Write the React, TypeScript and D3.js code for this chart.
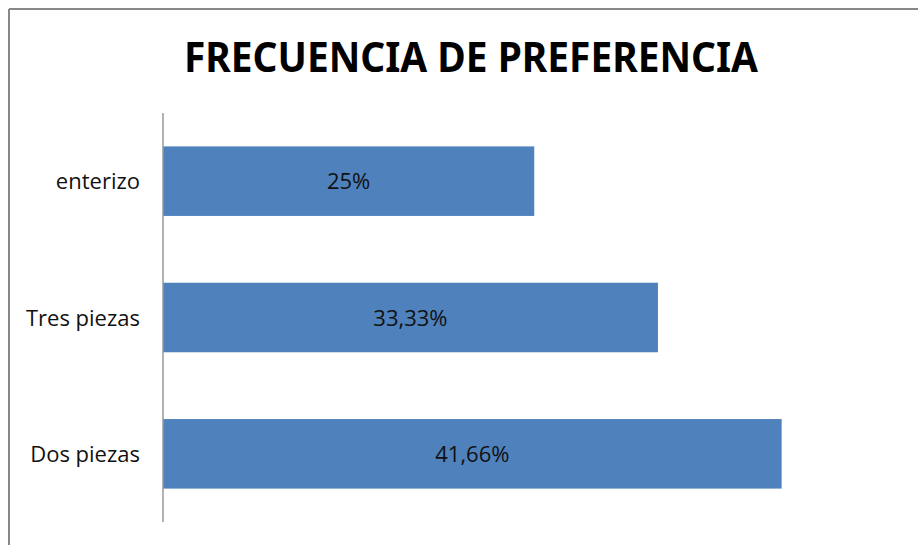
import React from "react";
import * as d3 from "d3";

const categories = ["enterizo", "Tres piezas", "Dos piezas"];
const values = [25, 33.33, 41.66];
const valueLabels = ["25%", "33,33%", "41,66%"];
const title = "FRECUENCIA DE PREFERENCIA";

export default function App() {
  const W = 918, H = 545;
  const x0 = 163, yTop = 113, yBot = 522;
  const x = d3.scaleLinear().domain([0, 45]).range([x0, x0 + 45 * 14.85]);
  const y = d3.scaleBand<string>().domain(categories).range([yTop, yBot]).paddingInner(0.49).paddingOuter(0.245);
  return (
    <svg width={W} height={H} style={{ position: "absolute", left: 0, top: 0 }}
      fontFamily="'Open Sans', 'Noto Sans', sans-serif">
      <rect x={0} y={0} width={W} height={H} fill="#fff" />
      <line x1={9} y1={9} x2={W} y2={9} stroke="#888" strokeWidth={2} />
      <line x1={9} y1={9} x2={9} y2={H} stroke="#888" strokeWidth={2} />
      <text x={471} y={72} textAnchor="middle" fontSize={41} fontWeight="bold" fill="#000"
        textLength={574} lengthAdjust="spacingAndGlyphs" fontFamily="'Noto Sans', sans-serif">{title}</text>
      {categories.map((c, i) => {
        const by = y(c)!;
        const bh = y.bandwidth();
        return (
          <g key={c}>
            <rect x={x(0)} y={by} width={x(values[i]) - x(0)} height={bh} fill="#4F81BD" />
            <text x={(x(0) + x(values[i])) / 2} y={by + bh / 2 + 8} textAnchor="middle" fontSize={22} fill="#111">{valueLabels[i]}</text>
            <text x={140} y={by + bh / 2 + 8} textAnchor="end" fontSize={22} fill="#111">{c}</text>
          </g>
        );
      })}
      <line x1={x0} y1={yTop} x2={x0} y2={yBot} stroke="#999" strokeWidth={1.5} />
    </svg>
  );
}
